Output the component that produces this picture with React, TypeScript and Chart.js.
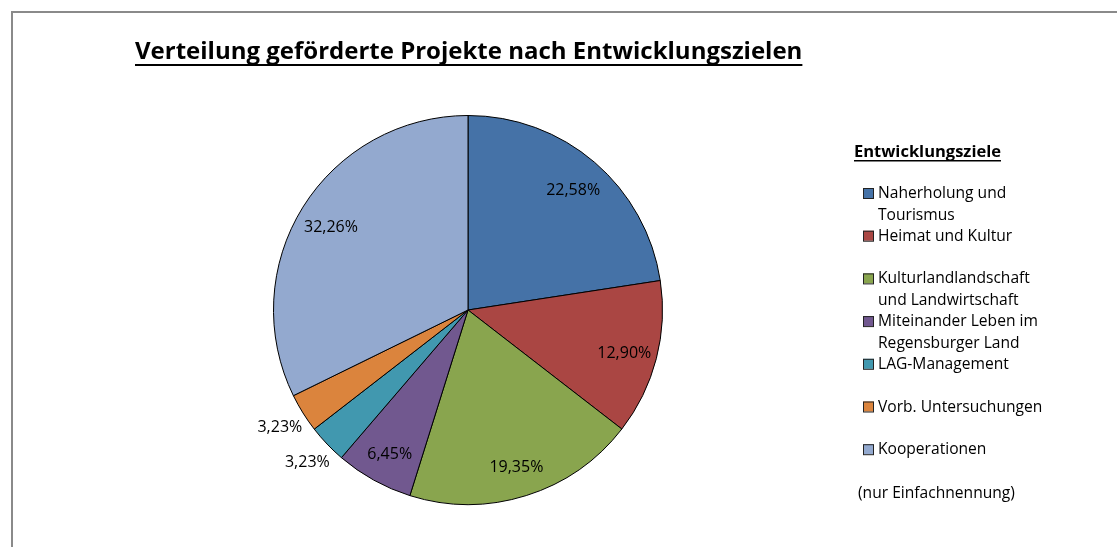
import React, { useEffect, useRef } from "react";
import { Chart, registerables } from "chart.js";

Chart.register(...registerables);

const TITLE = "Verteilung geförderte Projekte nach Entwicklungszielen";
const LEGEND_TITLE = "Entwicklungsziele";
const NOTE = "(nur Einfachnennung)";
const categories: string[][] = [
  ["Naherholung und", "Tourismus"],
  ["Heimat und Kultur"],
  ["Kulturlandlandschaft", "und Landwirtschaft"],
  ["Miteinander Leben im", "Regensburger Land"],
  ["LAG-Management"],
  ["Vorb. Untersuchungen"],
  ["Kooperationen"],
];
const shares = [22.58, 12.9, 19.35, 6.45, 3.23, 3.23, 32.26];
const colors = ["#4572A7", "#AA4643", "#89A54E", "#71588F", "#4198AF", "#DB843D", "#93A9CF"];

const FONT = "'Open Sans', Lato, sans-serif";
const W = 1117;
const H = 547;

const fmt = (v: number) => v.toFixed(2).replace(".", ",") + "%";

const decorPlugin = {
  id: "decor",
  afterDraw(chart: any) {
    const ctx: CanvasRenderingContext2D = chart.ctx;
    ctx.save();

    // outer frame
    ctx.strokeStyle = "#8a8a8a";
    ctx.lineWidth = 2;
    ctx.beginPath();
    ctx.moveTo(12, H + 2);
    ctx.lineTo(12, 12);
    ctx.lineTo(W + 2, 12);
    ctx.stroke();

    // title
    ctx.fillStyle = "#000";
    ctx.textAlign = "left";
    ctx.textBaseline = "alphabetic";
    ctx.font = `bold 24px ${FONT}`;
    const tx = 135;
    ctx.fillText(TITLE, tx, 59);
    const tw = ctx.measureText(TITLE).width;
    ctx.fillRect(tx, 64, tw, 2);

    // legend title
    ctx.font = `bold 16.5px ${FONT}`;
    ctx.fillText(LEGEND_TITLE, 854, 157);
    const lw = ctx.measureText(LEGEND_TITLE).width;
    ctx.fillRect(854, 160, lw, 1.5);

    // legend items
    ctx.font = `15.6px ${FONT}`;
    const pitch = 42.7;
    categories.forEach((lines, i) => {
      const base = 198 + i * pitch;
      ctx.fillStyle = colors[i];
      ctx.fillRect(863, base - 10, 11, 10);
      ctx.strokeStyle = "#222";
      ctx.lineWidth = 1;
      ctx.strokeRect(863.5, base - 9.5, 10, 10);
      ctx.fillStyle = "#000";
      lines.forEach((ln, j) => {
        ctx.fillText(ln, 878, base + j * 21.5);
      });
    });
    ctx.fillText(NOTE, 858, 198 + 6 * pitch + 44);

    // data labels
    const meta = chart.getDatasetMeta(0);
    ctx.font = `16px ${FONT}`;
    ctx.textAlign = "center";
    ctx.textBaseline = "middle";
    meta.data.forEach((arc: any, i: number) => {
      const p = arc.getProps(["x", "y", "startAngle", "endAngle", "outerRadius"], true);
      const mid = (p.startAngle + p.endAngle) / 2;
      const inside = shares[i] > 5;
      const d = inside ? p.outerRadius * 0.83 : p.outerRadius * 1.14;
      const x = p.x + Math.cos(mid) * d;
      const y = p.y + Math.sin(mid) * d + (inside ? 3 : 0);
      ctx.fillStyle = "#000";
      ctx.fillText(fmt(shares[i]), x, y);
    });

    ctx.restore();
  },
};

export default function App() {
  const ref = useRef<HTMLCanvasElement | null>(null);

  useEffect(() => {
    document.body.style.margin = "0";
    const canvas = ref.current;
    if (!canvas) return;
    const chart = new Chart(canvas, {
      type: "pie",
      data: {
        labels: categories,
        datasets: [
          {
            data: shares,
            backgroundColor: colors,
            borderColor: "#000",
            borderWidth: 1,
          },
        ],
      },
      options: {
        responsive: false,
        animation: false,
        layout: { padding: { left: 273, right: 454, top: 115, bottom: 42 } },
        plugins: {
          legend: { display: false },
          tooltip: { enabled: false },
          title: { display: false },
        },
      },
      plugins: [decorPlugin],
    });
    return () => chart.destroy();
  }, []);

  return (
    <div style={{ position: "fixed", left: 0, top: 0, width: W, height: H, background: "#fff" }}>
      <canvas ref={ref} width={W} height={H} style={{ display: "block", width: W, height: H }} />
    </div>
  );
}
